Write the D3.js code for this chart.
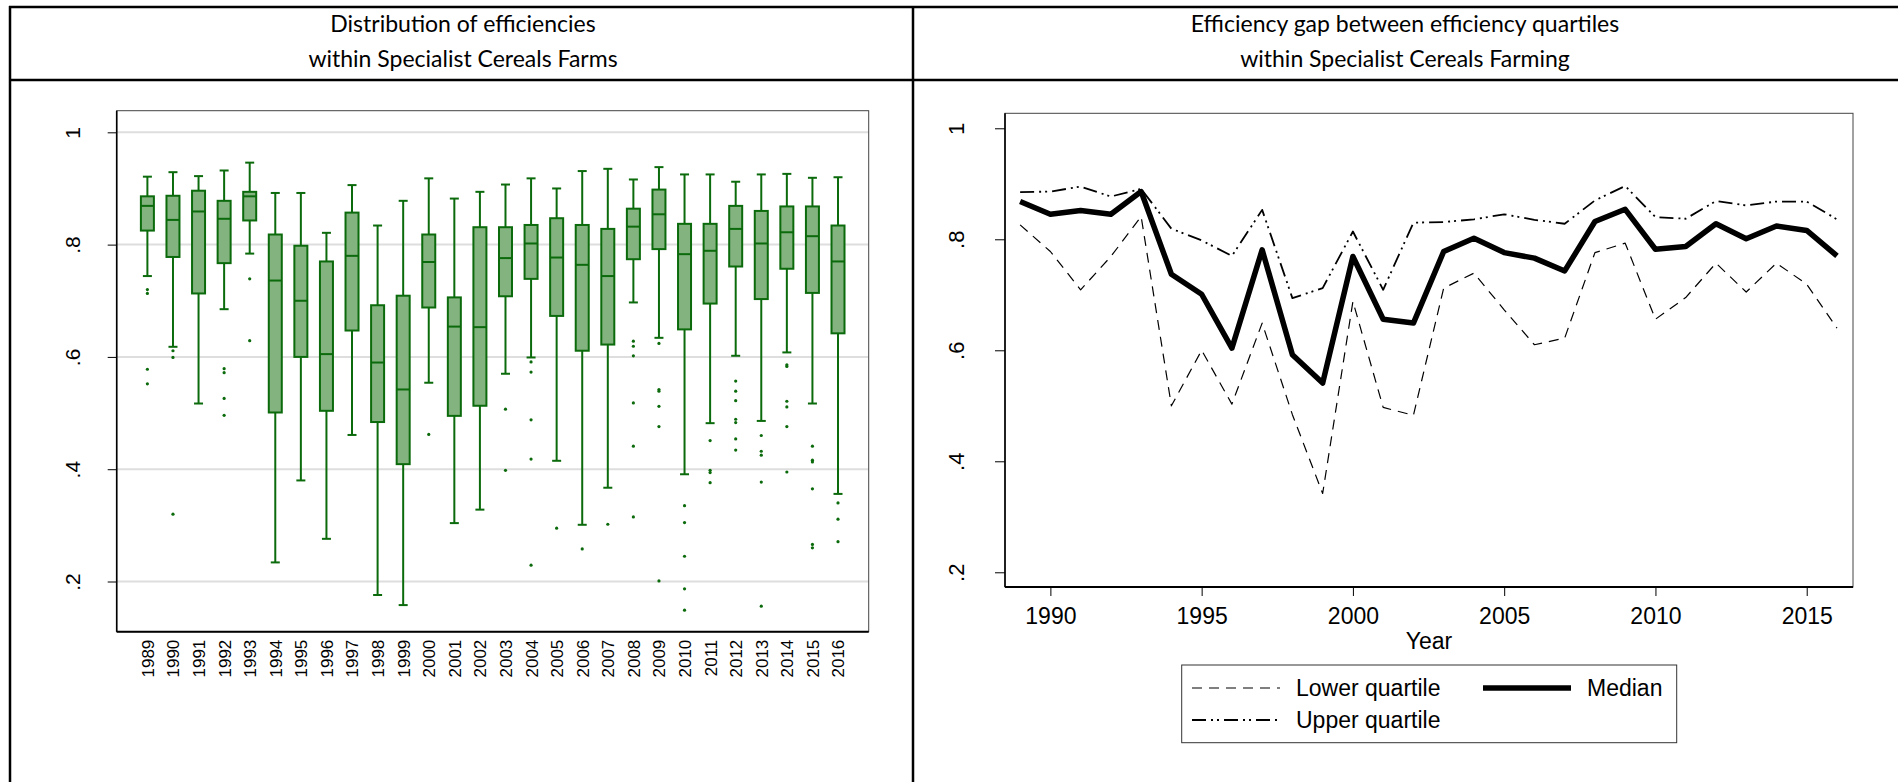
<!DOCTYPE html>
<html>
<head>
  <meta charset="utf-8">
  <script src="https://d3js.org/d3.v7.min.js"></script>
  <style>
    body { margin: 0; background: #fff; }
    svg text { font-family: "Liberation Sans", Arial, sans-serif; fill: #000; }
    svg .title { font-family: Lato, "Open Sans", sans-serif; font-size: 23px; }
  </style>
</head>
<body>
<script>
"use strict";

// ---- data ----
var years = [1989, 1990, 1991, 1992, 1993, 1994, 1995, 1996, 1997, 1998, 1999, 2000, 2001, 2002,
             2003, 2004, 2005, 2006, 2007, 2008, 2009, 2010, 2011, 2012, 2013, 2014, 2015, 2016];

// box plot (left panel)
var whiskerHigh = [0.921, 0.929, 0.922, 0.932, 0.946, 0.892, 0.892, 0.821, 0.906, 0.834, 0.878, 0.918, 0.882, 0.894,
                   0.907, 0.918, 0.900, 0.931, 0.935, 0.916, 0.938, 0.925, 0.925, 0.912, 0.925, 0.926, 0.919, 0.920];
var boxQ3 = [0.886, 0.887, 0.896, 0.878, 0.894, 0.818, 0.798, 0.770, 0.857, 0.692, 0.709, 0.818, 0.706, 0.831,
             0.831, 0.835, 0.847, 0.835, 0.828, 0.864, 0.898, 0.837, 0.837, 0.869, 0.860, 0.868, 0.868, 0.834];
var boxMedian = [0.869, 0.844, 0.859, 0.846, 0.886, 0.736, 0.700, 0.605, 0.780, 0.590, 0.542, 0.769, 0.654, 0.653,
                 0.776, 0.802, 0.777, 0.764, 0.744, 0.832, 0.854, 0.783, 0.789, 0.828, 0.802, 0.822, 0.815, 0.770];
var boxQ1 = [0.825, 0.778, 0.713, 0.767, 0.843, 0.501, 0.600, 0.504, 0.647, 0.484, 0.409, 0.688, 0.495, 0.513,
             0.708, 0.739, 0.673, 0.611, 0.622, 0.774, 0.792, 0.649, 0.695, 0.761, 0.703, 0.757, 0.714, 0.642];
var whiskerLow = [0.744, 0.618, 0.517, 0.685, 0.784, 0.234, 0.380, 0.276, 0.461, 0.176, 0.158, 0.554, 0.304, 0.328,
                  0.570, 0.599, 0.415, 0.301, 0.367, 0.697, 0.634, 0.391, 0.482, 0.602, 0.486, 0.608, 0.517, 0.356];
var outliers = [
  [0.720, 0.713, 0.578, 0.552],
  [0.611, 0.599, 0.320],
  [],
  [0.579, 0.572, 0.526, 0.496],
  [0.739, 0.629],
  [], [], [], [], [], [],
  [0.462],
  [],
  [],
  [0.507, 0.398],
  [0.591, 0.573, 0.488, 0.418, 0.229],
  [0.295],
  [0.258],
  [0.302],
  [0.628, 0.619, 0.602, 0.518, 0.441, 0.315],
  [0.624, 0.542, 0.539, 0.512, 0.476, 0.201],
  [0.335, 0.305, 0.245, 0.187, 0.149],
  [0.451, 0.398, 0.394, 0.376],
  [0.557, 0.539, 0.522, 0.489, 0.483, 0.454, 0.434],
  [0.460, 0.432, 0.425, 0.377, 0.156],
  [0.586, 0.583, 0.521, 0.511, 0.476, 0.395],
  [0.441, 0.416, 0.413, 0.365, 0.266, 0.260],
  [0.340, 0.311, 0.271]
];

// quartile lines (right panel)
var lowerQuartile = [0.826, 0.778, 0.709, 0.769, 0.841, 0.500, 0.600, 0.503, 0.649, 0.484, 0.342, 0.688, 0.497, 0.483,
                     0.712, 0.739, 0.673, 0.610, 0.622, 0.776, 0.793, 0.656, 0.695, 0.757, 0.705, 0.757, 0.719, 0.640];
var medianLine = [0.868, 0.845, 0.852, 0.845, 0.886, 0.737, 0.701, 0.604, 0.781, 0.592, 0.541, 0.769, 0.656, 0.649,
                  0.778, 0.802, 0.776, 0.766, 0.743, 0.832, 0.854, 0.782, 0.787, 0.828, 0.801, 0.824, 0.816, 0.770];
var upperQuartile = [0.885, 0.886, 0.895, 0.877, 0.891, 0.819, 0.798, 0.770, 0.853, 0.694, 0.712, 0.814, 0.709, 0.830,
                     0.831, 0.836, 0.845, 0.835, 0.828, 0.870, 0.896, 0.840, 0.837, 0.869, 0.861, 0.868, 0.868, 0.836];

var effTicks = [0.2, 0.4, 0.6, 0.8, 1];
var yearTicks = [1990, 1995, 2000, 2005, 2010, 2015];

var leftTitle = ["Distribution of efficiencies", "within Specialist Cereals Farms"];
var rightTitle = ["Efficiency gap between efficiency quartiles", "within Specialist Cereals Farming"];
var legendNames = ["Lower quartile", "Median", "Upper quartile"];

// ---- drawing ----
var W = 1898, H = 782;
var green = "#0b6a0b", boxFill = "#83b37f";
var fmtEff = function (d) { return d === 1 ? "1" : d3.format(".1f")(d).replace(/^0/, ""); };

var svg = d3.select("body").append("svg")
    .attr("width", W).attr("height", H)
    .style("display", "block");
svg.append("rect").attr("width", W).attr("height", H).attr("fill", "#fff");

// table frame
var frame = svg.append("g").attr("stroke", "#000").attr("stroke-width", 2.5);
frame.append("line").attr("x1", 9).attr("x2", W).attr("y1", 7).attr("y2", 7);
frame.append("line").attr("x1", 9).attr("x2", W).attr("y1", 80).attr("y2", 80);
frame.append("line").attr("x1", 10).attr("x2", 10).attr("y1", 6).attr("y2", H);
frame.append("line").attr("x1", 913).attr("x2", 913).attr("y1", 6).attr("y2", H);

function title(lines, cx) {
  svg.selectAll(null).data(lines).enter().append("text")
    .attr("class", "title")
    .attr("x", cx)
    .attr("y", function (d, i) { return 32 + i * 35; })
    .attr("text-anchor", "middle")
    .text(function (d) { return d; });
}
title(leftTitle, 463);
title(rightTitle, 1405);

// ===== left panel: box plots =====
var L = { left: 116.7, right: 868.7, top: 110.7, bottom: 631.7 };
var x1 = d3.scalePoint().domain(years).range([L.left, L.right]).padding(1.2);
var y1 = d3.scaleLinear().domain([0.1106, 1.0385]).range([L.bottom, L.top]);

svg.append("g").selectAll("line").data(effTicks).enter().append("line")
    .attr("x1", L.left).attr("x2", L.right)
    .attr("y1", function (d) { return y1(d); }).attr("y2", function (d) { return y1(d); })
    .attr("stroke", "#dedede").attr("stroke-width", 2);

svg.append("rect")
    .attr("x", L.left).attr("y", L.top)
    .attr("width", L.right - L.left).attr("height", L.bottom - L.top)
    .attr("fill", "none").attr("stroke", "#444").attr("stroke-width", 1);

var yAxisL = svg.append("g")
    .attr("transform", "translate(" + L.left + ",0)")
    .call(d3.axisLeft(y1).tickValues(effTicks).tickFormat(fmtEff).tickSize(9).tickSizeOuter(0));
yAxisL.select(".domain").attr("d", "M0," + L.top + "V" + L.bottom).attr("stroke-width", 1.6);
yAxisL.selectAll("text")
    .attr("x", null).attr("dy", "0.35em")
    .attr("text-anchor", "middle")
    .attr("transform", "translate(-44,0) rotate(-90)")
    .style("font-size", "21px").style("font-family", "Liberation Sans");

var xAxisL = svg.append("g")
    .attr("transform", "translate(0," + L.bottom + ")")
    .call(d3.axisBottom(x1).tickSize(0).tickSizeOuter(0));
xAxisL.select(".domain").attr("d", "M" + L.left + ",0H" + L.right).attr("stroke-width", 2);
xAxisL.selectAll("text")
    .attr("y", null).attr("dy", "0.35em")
    .attr("text-anchor", "end")
    .attr("transform", "translate(0,8) rotate(-90)")
    .style("font-size", "17px").style("font-family", "Liberation Sans");

var boxW = 13, capW = 9;
var boxes = svg.append("g").selectAll("g").data(years).enter().append("g")
    .attr("transform", function (d) { return "translate(" + x1(d) + ",0)"; });

boxes.append("line")
    .attr("y1", function (d, i) { return y1(whiskerHigh[i]); })
    .attr("y2", function (d, i) { return y1(whiskerLow[i]); })
    .attr("stroke", green).attr("stroke-width", 2);
boxes.each(function (d, i) {
  var g = d3.select(this);
  [whiskerHigh[i], whiskerLow[i]].forEach(function (v) {
    g.append("line").attr("x1", -capW / 2).attr("x2", capW / 2)
      .attr("y1", y1(v)).attr("y2", y1(v))
      .attr("stroke", green).attr("stroke-width", 2);
  });
});
boxes.append("rect")
    .attr("x", -boxW / 2).attr("width", boxW)
    .attr("y", function (d, i) { return y1(boxQ3[i]); })
    .attr("height", function (d, i) { return y1(boxQ1[i]) - y1(boxQ3[i]); })
    .attr("fill", boxFill).attr("stroke", green).attr("stroke-width", 2);
boxes.append("line")
    .attr("x1", -boxW / 2).attr("x2", boxW / 2)
    .attr("y1", function (d, i) { return y1(boxMedian[i]); })
    .attr("y2", function (d, i) { return y1(boxMedian[i]); })
    .attr("stroke", green).attr("stroke-width", 2);
boxes.selectAll("circle").data(function (d, i) { return outliers[i]; }).enter().append("circle")
    .attr("cy", function (v) { return y1(v); })
    .attr("r", 1.6).attr("fill", green);

// ===== right panel: quartile lines =====
var R = { left: 1005, right: 1853, top: 113.3, bottom: 587 };
var x2 = d3.scaleLinear().domain([1988.5, 2016.53]).range([R.left, R.right]);
var y2 = d3.scaleLinear().domain([0.1735, 1.027]).range([R.bottom, R.top]);

svg.append("rect")
    .attr("x", R.left).attr("y", R.top)
    .attr("width", R.right - R.left).attr("height", R.bottom - R.top)
    .attr("fill", "none").attr("stroke", "#444").attr("stroke-width", 1);

var yAxisR = svg.append("g")
    .attr("transform", "translate(" + R.left + ",0)")
    .call(d3.axisLeft(y2).tickValues(effTicks).tickFormat(fmtEff).tickSize(10).tickSizeOuter(0));
yAxisR.select(".domain").attr("d", "M0," + R.top + "V" + R.bottom).attr("stroke-width", 1.6);
yAxisR.selectAll("text")
    .attr("x", null).attr("dy", "0.35em")
    .attr("text-anchor", "middle")
    .attr("transform", "translate(-49,0) rotate(-90)")
    .style("font-size", "22px").style("font-family", "Liberation Sans");

var xAxisR = svg.append("g")
    .attr("transform", "translate(0," + R.bottom + ")")
    .call(d3.axisBottom(x2).tickValues(yearTicks).tickFormat(d3.format("d")).tickSize(9).tickPadding(12).tickSizeOuter(0));
xAxisR.select(".domain").attr("d", "M" + R.left + ",0H" + R.right).attr("stroke-width", 2);
xAxisR.selectAll("text").style("font-size", "23px").style("font-family", "Liberation Sans");

svg.append("text")
    .attr("x", (R.left + R.right) / 2).attr("y", 649)
    .attr("text-anchor", "middle").style("font-size", "23px")
    .text("Year");

var series = [
  { values: lowerQuartile, width: 1.2, dash: "10,7" },
  { values: medianLine, width: 5.5, dash: null },
  { values: upperQuartile, width: 1.8, dash: "14,5,2,4,2,5" }
];
var line = d3.line()
    .x(function (d, i) { return x2(years[i]); })
    .y(function (d) { return y2(d); });

svg.append("g").selectAll("path").data(series).enter().append("path")
    .attr("d", function (s) { return line(s.values); })
    .attr("fill", "none").attr("stroke", "#000")
    .attr("stroke-width", function (s) { return s.width; })
    .attr("stroke-dasharray", function (s) { return s.dash; })
    .attr("stroke-linejoin", "round");

// legend
var lg = svg.append("g");
lg.append("rect")
    .attr("x", 1181.7).attr("y", 665).attr("width", 495).attr("height", 77.7)
    .attr("fill", "#fff").attr("stroke", "#333").attr("stroke-width", 1);
var slots = [{ x: 1192, y: 688 }, { x: 1483, y: 688 }, { x: 1192, y: 720 }];
var item = lg.selectAll("g.item").data(series).enter().append("g")
    .attr("class", "item")
    .attr("transform", function (s, i) { return "translate(" + slots[i].x + "," + slots[i].y + ")"; });
item.append("line")
    .attr("x1", 0).attr("x2", 88)
    .attr("stroke", "#000")
    .attr("stroke-width", function (s) { return s.width; })
    .attr("stroke-dasharray", function (s) { return s.dash; });
item.append("text")
    .attr("x", 104).attr("dy", "0.35em")
    .style("font-size", "23px")
    .text(function (s, i) { return legendNames[i]; });
</script>
</body>
</html>
